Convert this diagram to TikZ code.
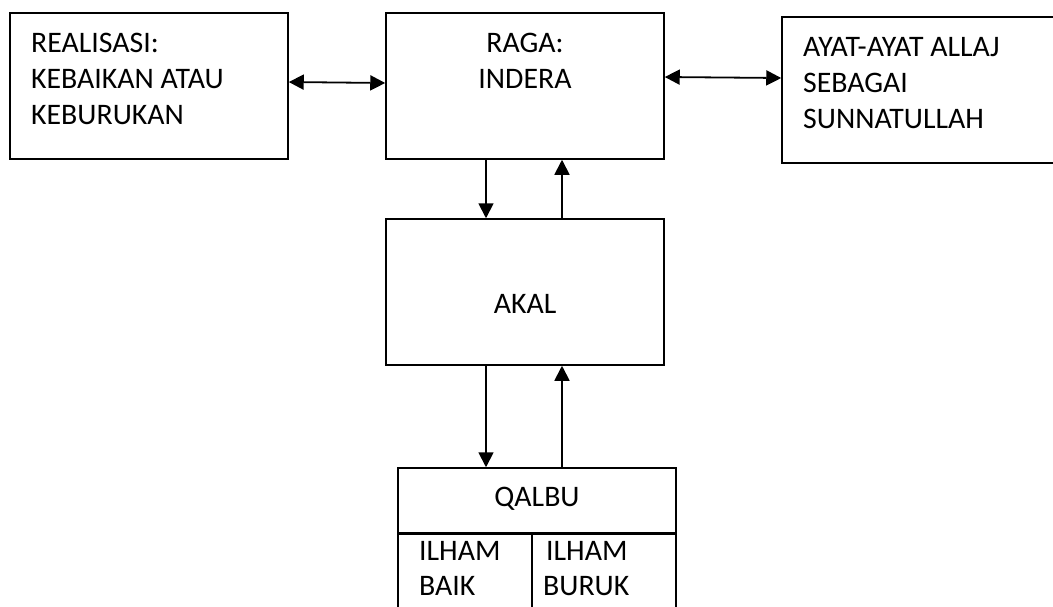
\documentclass[tikz,border=0pt]{standalone}
\usepackage{fontspec}
\setmainfont{Carlito}
\usetikzlibrary{arrows.meta}
\begin{document}
\begin{tikzpicture}[x=1pt,y=-1pt,
  box/.style={draw, line width=1.5pt, minimum width=278pt, minimum height=146pt, inner sep=0pt},
  txt/.style={inner sep=0pt, anchor=base west, font=\fontsize{29.8}{36}\selectfont},
  ctxt/.style={inner sep=0pt, anchor=base, font=\fontsize{29.8}{36}\selectfont},
  arr/.style={line width=1.8pt, -{Triangle[length=15pt,width=15pt]}},
  dbl/.style={line width=1.8pt, {Triangle[length=15pt,width=15pt]}-{Triangle[length=15pt,width=15pt]}}]
\useasboundingbox (0,0) rectangle (1053,606);
\clip (0,0) rectangle (1053,606);
% boxes
\node[box] (L) at (149,86) {};
\node[box] (C) at (525,86) {};
\node[box, minimum width=280pt] (R) at (922,90) {};
\node[box] (K) at (525,292) {};
\node[box, minimum height=65pt] (Q) at (537,500.5) {};
\node[box, minimum width=134pt, minimum height=90pt, anchor=north west] (QB1) at (Q.south west) {};
\node[box, minimum width=144pt, minimum height=90pt, anchor=north east] (QB2) at (Q.south east) {};
% texts
\node[txt] (l1) at (31,52) {REALISASI:};
\node[txt] (l2) at (31,88) {KEBAIKAN ATAU};
\node[txt] (l3) at (31,124) {KEBURUKAN};
\node[ctxt] (c1) at (525,52) {RAGA:};
\node[ctxt] (c2) at (525,88) {INDERA};
\node[txt] (r1) at (803,56) {AYAT-AYAT ALLAJ};
\node[txt] (r2) at (803,92) {SEBAGAI};
\node[txt] (r3) at (803,128) {SUNNATULLAH};
\node[ctxt] (k1) at (525,313) {AKAL};
\node[ctxt] (q1) at (537,506) {QALBU};
\node[txt] (b1) at (419,560) {ILHAM};
\node[txt] (b2) at (419,595) {BAIK};
\node[txt] (b3) at (546,560) {ILHAM};
\node[txt] (b4) at (543,595) {BURUK};
% connectors
\draw[dbl] (L.east |- 0,82) -- (C.west |- 0,83);
\draw[dbl] (C.east |- 0,77) -- (R.west |- 0,78);
\draw[arr] (C.south -| 486,0) -- (K.north -| 486,0);
\draw[arr] (K.north -| 562,0) -- (C.south -| 562,0);
\draw[arr] (K.south -| 486,0) -- (Q.north -| 486,0);
\draw[arr] (Q.north -| 562,0) -- (K.south -| 562,0);
\end{tikzpicture}
\end{document}
